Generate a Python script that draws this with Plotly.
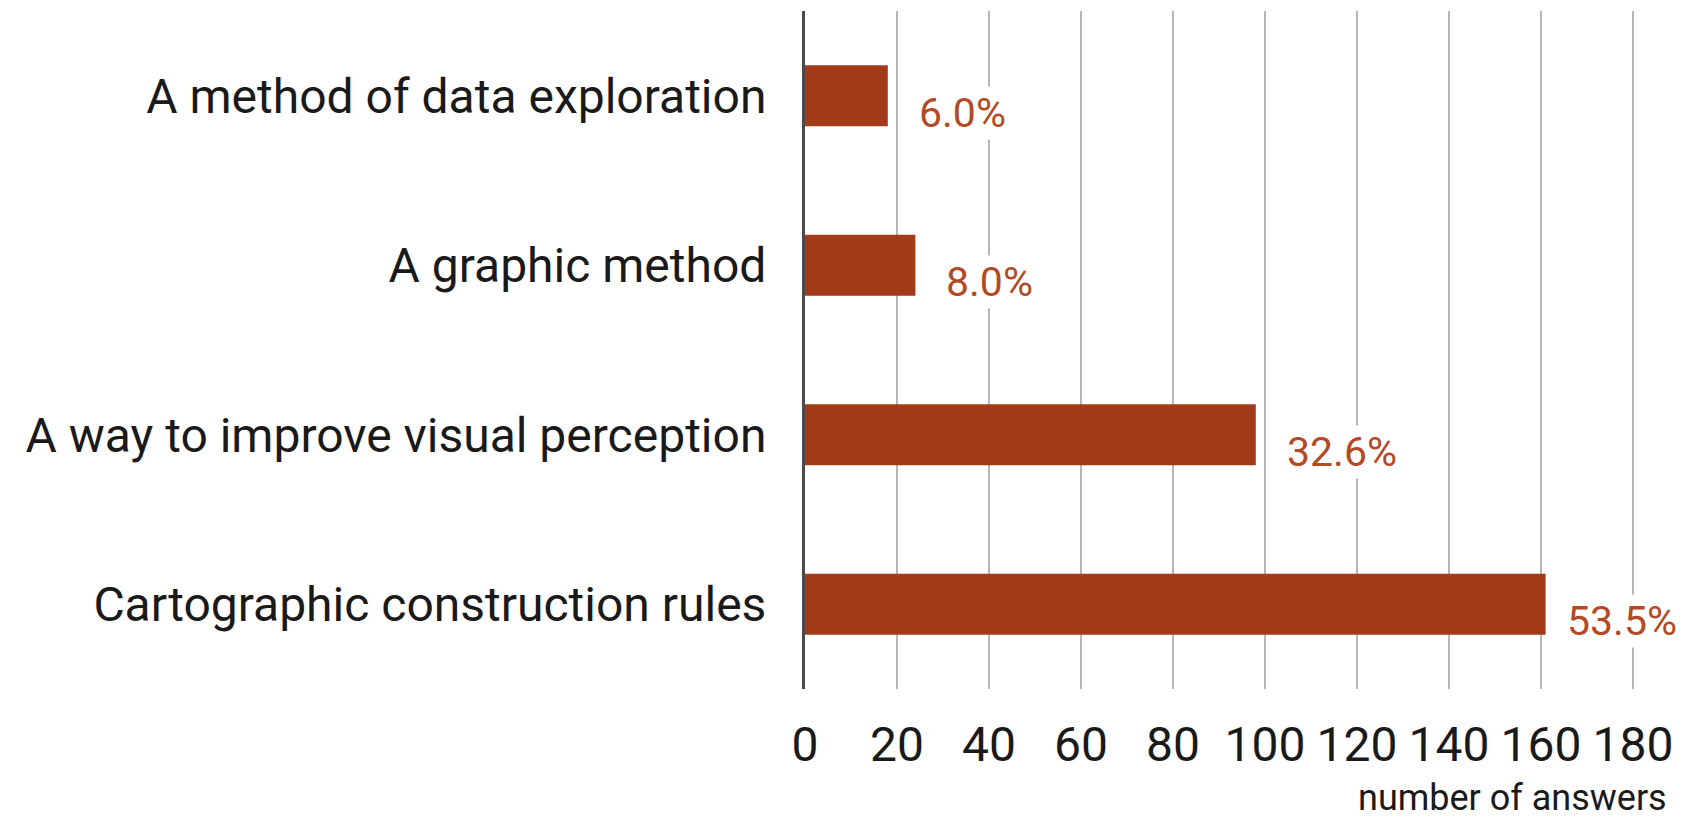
import plotly.graph_objects as go

categories = [
    "A method of data exploration",
    "A graphic method",
    "A way to improve visual perception",
    "Cartographic construction rules",
]
answers = [18, 24, 98, 161]
percent_labels = ["6.0%", "8.0%", "32.6%", "53.5%"]
x_ticks = [0, 20, 40, 60, 80, 100, 120, 140, 160, 180]
x_title = "number of answers"

BAR = "#a33a1a"
LABEL = "#b24a26"
FONT = "Roboto, Arial, sans-serif"

# the page body has an 8px default margin, so the figure is 8px smaller
W, H = 1676, 815

fig = go.Figure(
    go.Bar(
        x=answers,
        y=categories,
        orientation="h",
        width=0.36,
        marker=dict(color=BAR, line=dict(width=0)),
        hoverinfo="skip",
    )
)

annotations = []
for v, cat, lab in zip(answers, categories, percent_labels):
    annotations.append(
        dict(
            x=v, y=cat, xref="x", yref="y",
            text=lab, showarrow=False,
            xanchor="left", yanchor="middle",
            xshift=28 if v < 150 else 18, yshift=-17,
            font=dict(family=FONT, size=41, color=LABEL),
            bgcolor="white", borderpad=2,
        )
    )
annotations.append(
    dict(
        x=1, y=0, xref="paper", yref="paper",
        text=x_title, showarrow=False,
        xanchor="right", yanchor="bottom",
        xshift=13, yshift=-132,
        font=dict(family=FONT, size=36, color="#1a1a1a"),
    )
)

fig.update_layout(
    width=W, height=H,
    margin=dict(l=797, r=28, t=3, b=134),
    paper_bgcolor="white", plot_bgcolor="white",
    showlegend=False,
    font=dict(family=FONT, color="#1a1a1a"),
    annotations=annotations,
    xaxis=dict(
        range=[0, 185],
        tickvals=x_ticks,
        ticktext=[str(t) for t in x_ticks],
        showgrid=True, gridcolor="#b5b5b5", gridwidth=2,
        zeroline=False, showline=False, ticks="",
        tickfont=dict(family=FONT, size=48, color="#1a1a1a"),
        ticklabelstandoff=23,
    ),
    yaxis=dict(
        categoryorder="array", categoryarray=categories,
        autorange="reversed",
        showgrid=False, zeroline=False,
        showline=True, linecolor="#4a4a4a", linewidth=3,
        ticks="",
        tickfont=dict(family=FONT, size=48, color="#1a1a1a"),
        ticklabelstandoff=26,
    ),
)

fig.write_html("out.html")
